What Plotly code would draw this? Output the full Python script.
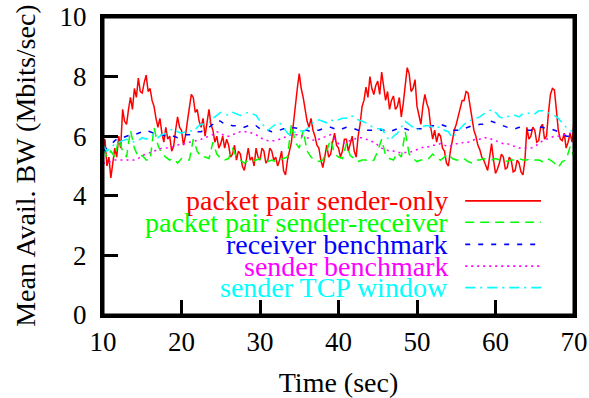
import plotly.graph_objects as go

# sampling grids (seconds)
time_fine = [10 + 0.25 * i for i in range(241)]
time = [10 + 0.5 * i for i in range(121)]

pp_sender_only = [
    5.5, 5.9, 5.0, 5.3, 4.6, 5.2, 5.6, 5.3, 6.0, 5.6, 6.9, 6.5, 6.4, 6.9, 7.3, 6.9, 7.6, 7.3, 7.95, 7.5,
    7.45, 7.8, 8.05, 7.5, 7.6, 7.2, 7.0, 6.6, 6.3, 6.6, 6.1, 5.8, 6.3, 5.9, 6.0, 5.5, 5.65, 6.2, 6.65, 6.3,
    6.2, 5.7, 6.0, 6.5, 6.9, 7.4, 7.3, 6.8, 6.9, 6.5, 6.3, 6.6, 6.0, 6.4, 6.9, 6.4, 6.2, 5.8, 6.0, 5.6,
    5.75, 6.0, 5.6, 5.9, 5.7, 5.3, 5.4, 5.7, 5.2, 5.5, 5.4, 5.0, 4.85, 5.2, 5.6, 5.2, 5.3, 5.0, 5.6, 5.3,
    5.2, 5.6, 5.5, 5.1, 5.2, 5.6, 5.5, 5.2, 5.3, 5.0, 5.2, 5.5, 4.85, 4.7, 5.2, 5.5, 5.8, 6.4, 7.1, 7.6,
    8.1, 7.6, 7.3, 6.9, 6.5, 6.3, 6.6, 6.2, 6.0, 5.7, 5.6, 5.2, 4.95, 5.3, 5.7, 5.3, 5.4, 5.8, 6.1, 5.7,
    5.6, 5.3, 5.5, 5.9, 5.9, 5.5, 5.8, 6.0, 5.5, 5.3, 6.0, 6.4, 7.0, 7.2, 7.65, 7.3, 8.0, 7.6, 7.4, 7.7,
    7.85, 7.4, 8.15, 7.7, 7.2, 7.5, 6.9, 7.2, 7.35, 6.9, 7.0, 7.3, 6.65, 7.1, 7.8, 8.3, 8.1, 7.5, 7.6, 7.9,
    7.0, 6.7, 6.4, 7.0, 7.4, 7.1, 6.9, 6.3, 5.9, 6.2, 5.8, 6.1, 6.0, 5.6, 5.5, 5.1, 5.0, 5.5, 5.9, 6.2,
    6.4, 6.7, 6.9, 7.2, 7.2, 7.5, 7.45, 7.0, 6.5, 6.2, 6.0, 5.7, 5.55, 5.3, 5.2, 5.0, 4.85, 5.3, 5.75, 5.2,
    4.75, 4.9, 5.1, 5.4, 5.3, 4.9, 4.95, 5.3, 5.2, 4.8, 4.85, 5.2, 5.1, 4.8, 4.7, 5.2, 6.3, 5.9, 6.0, 6.3,
    6.2, 5.8, 5.85, 6.3, 6.4, 5.9, 6.0, 6.8, 7.4, 7.6, 7.55, 6.9, 6.2, 5.9, 5.85, 6.1, 5.6, 5.8, 6.1, 5.8,
    6.5,
]

pp_sender_receiver = [
    5.6, 5.3, 5.5, 5.3, 5.9, 5.5, 5.3, 6.2, 5.6, 5.3,
    5.35, 5.2, 5.2, 6.3, 5.7, 5.4, 5.3, 5.2, 5.25, 5.1,
    5.25, 5.2, 5.2, 5.9, 5.5, 5.3, 5.3, 5.25, 5.8, 5.4,
    5.25, 5.2, 5.25, 5.6, 5.3, 5.2, 5.1, 5.2, 5.15, 5.2,
    5.25, 5.2, 5.15, 5.2, 5.15, 5.2, 5.25, 5.3, 6.4, 5.8,
    5.6, 6.2, 5.5, 5.3, 5.2, 5.15, 5.2, 5.5, 5.9, 5.4,
    5.3, 5.25, 5.75, 5.35, 5.25, 5.15, 5.2, 5.2, 5.15, 5.2,
    5.5, 5.9, 5.35, 5.25, 5.2, 5.45, 5.3, 6.15, 5.4, 5.25,
    5.15, 5.2, 5.2, 5.25, 5.4, 5.25, 5.2, 5.3, 5.4, 5.25,
    5.2, 5.2, 5.25, 5.15, 5.1, 5.2, 5.2, 5.25, 5.2, 5.2,
    5.25, 5.2, 5.2, 5.15, 5.2, 5.2, 5.25, 5.2, 5.2, 5.25,
    5.2, 5.2, 5.15, 5.25, 5.2, 5.1, 4.95, 5.15, 5.2, 5.65,
    5.3,
]

receiver_benchmark = [
    5.5, 5.6, 5.7, 5.85, 5.95, 5.95, 6.0, 6.05, 6.05, 6.1,
    6.15, 6.2, 6.15, 6.1, 6.05, 6.05, 6.0, 6.05, 6.0, 5.95,
    6.0, 6.05, 6.05, 6.1, 6.15, 6.15, 6.25, 6.3, 6.4, 6.55,
    6.5, 6.4, 6.4, 6.35, 6.35, 6.35, 6.3, 6.35, 6.3, 6.35,
    6.25, 6.2, 6.2, 6.15, 6.2, 6.2, 6.25, 6.25, 6.3, 6.28,
    6.25, 6.2, 6.2, 6.15, 6.2, 6.2, 6.25, 6.3, 6.3, 6.25,
    6.2, 6.25, 6.3, 6.3, 6.25, 6.2, 6.2, 6.2, 6.2, 6.2,
    6.25, 6.2, 6.2, 6.15, 6.2, 6.25, 6.3, 6.25, 6.2, 6.2,
    6.25, 6.25, 6.3, 6.3, 6.35, 6.35, 6.4, 6.35, 6.3, 6.2,
    6.2, 6.2, 6.25, 6.3, 6.35, 6.35, 6.4, 6.4, 6.45, 6.5,
    6.45, 6.4, 6.35, 6.3, 6.25, 6.25, 6.3, 6.25, 6.2, 6.2,
    6.25, 6.3, 6.3, 6.25, 6.25, 6.2, 6.15, 6.1, 6.0, 6.0,
    6.05,
]

sender_benchmark = [
    5.1, 5.1, 5.15, 5.2, 5.2, 5.2, 5.2, 5.2, 5.2, 5.25,
    5.35, 5.4, 5.45, 5.5, 5.55, 5.6, 5.6, 5.62, 5.65, 5.7,
    5.75, 5.75, 5.8, 5.82, 5.85, 5.9, 5.95, 6.0, 6.05, 6.15,
    6.1, 6.0, 6.0, 6.05, 6.1, 6.15, 6.15, 6.15, 6.1, 6.05,
    5.95, 5.9, 5.85, 5.85, 5.85, 5.9, 5.95, 6.0, 6.05, 6.05,
    6.05, 6.0, 5.95, 5.9, 5.85, 5.9, 5.95, 6.0, 6.05, 5.9,
    5.75, 5.75, 5.8, 5.85, 5.9, 5.95, 5.95, 5.9, 5.85, 5.8,
    5.7, 5.6, 5.55, 5.5, 5.5, 5.45, 5.45, 5.45, 5.45, 5.5,
    5.55, 5.6, 5.65, 5.65, 5.7, 5.7, 5.75, 5.7, 5.65, 5.7,
    5.75, 5.75, 5.8, 5.8, 5.85, 5.9, 5.9, 5.95, 5.95, 5.9,
    5.85, 5.8, 5.75, 5.75, 5.7, 5.65, 5.6, 5.6, 5.6, 5.6,
    5.65, 5.75, 5.85, 5.9, 5.95, 6.0, 6.0, 6.05, 6.05, 6.1,
    6.1,
]

sender_tcp_window = [
    5.7, 5.5, 5.6, 5.75, 5.8, 5.85, 5.9, 5.85, 5.8, 5.85,
    5.95, 5.9, 6.0, 6.05, 5.95, 6.05, 6.1, 6.2, 6.25, 6.15,
    6.1, 6.15, 6.2, 6.15, 6.3, 6.4, 6.4, 6.45, 6.6, 6.7,
    6.8, 6.75, 6.7, 6.8, 6.75, 6.7, 6.75, 6.8, 6.75, 6.7,
    6.5, 6.35, 6.2, 6.3, 6.4, 6.45, 6.3, 6.1, 6.0, 6.15,
    6.2, 6.15, 6.25, 6.4, 6.5, 6.55, 6.5, 6.45, 6.55, 6.5,
    6.55, 6.6, 6.6, 6.7, 6.65, 6.55, 6.5, 6.45, 6.35, 6.3,
    6.25, 6.25, 6.05, 5.85, 6.0, 6.1, 6.3, 6.5, 6.4, 6.3,
    6.2, 6.3, 6.35, 6.35, 6.3, 6.3, 6.3, 6.2, 6.15, 5.95,
    6.1, 6.25, 6.4, 6.5, 6.55, 6.6, 6.65, 6.75, 6.8, 6.9,
    6.8, 6.65, 6.6, 6.65, 6.7, 6.7, 6.65, 6.75, 6.75, 6.8,
    6.75, 6.85, 6.85, 6.8, 6.75, 6.7, 6.6, 6.45, 6.3, 6.2,
    6.15,
]

series_names = [
    "packet pair sender-only",
    "packet pair sender-receiver",
    "receiver benchmark",
    "sender benchmark",
    "sender TCP window",
]
series_x = [time_fine, time, time, time, time]
series_values = [pp_sender_only, pp_sender_receiver, receiver_benchmark,
                 sender_benchmark, sender_tcp_window]
colors = ["#ff0000", "#00ff00", "#0000ff", "#ff00ff", "#00ffff"]
dashes = ["solid", "9px,6px", "5px,8px", "2px,4px", "10px,5px,2px,5px"]

x_ticks = [10, 20, 30, 40, 50, 60, 70]
y_ticks = [0, 2, 4, 6, 8, 10]

FONT = "Liberation Serif, Times New Roman, serif"

fig = go.Figure()
for name, xs, vals, c, d in zip(series_names, series_x, series_values, colors, dashes):
    fig.add_trace(go.Scatter(x=xs, y=vals, mode="lines", name=name,
                             line=dict(color=c, width=1.5, dash=d),
                             showlegend=False))

# legend drawn gnuplot-style: right-aligned text with sample line to the right
leg_y = [0.383, 0.311, 0.237, 0.164, 0.092]
for name, c, d, yy in zip(series_names, colors, dashes, leg_y):
    fig.add_annotation(x=0.737, y=yy, xref="paper", yref="paper",
                       text=name, showarrow=False, xanchor="right",
                       yanchor="middle", font=dict(family=FONT, size=28, color=c))
    fig.add_shape(type="line", xref="paper", yref="paper",
                  x0=0.769, x1=0.930, y0=yy, y1=yy,
                  line=dict(color=c, width=1.6, dash=d))

# y-axis title, placed as a rotated text
fig.add_annotation(x=-0.166, y=0.5, xref="paper", yref="paper",
                   text="Mean Avail. BW (Mbits/sec)", showarrow=False,
                   textangle=-90, xanchor="center", yanchor="middle",
                   font=dict(family=FONT, size=28, color="black"))

# frame around the plot area
fig.add_shape(type="rect", xref="paper", yref="paper", x0=0, x1=1, y0=0, y1=1,
              line=dict(color="black", width=3), layer="above")

axis_common = dict(
    showline=True, linecolor="black", linewidth=3, mirror=True,
    ticks="inside", ticklen=15, tickwidth=2.5, tickcolor="black",
    showgrid=False, zeroline=False, automargin=False,
    ticklabeloverflow="allow",
    tickfont=dict(family=FONT, size=27, color="black"),
)

fig.update_layout(
    width=589, height=398,
    margin=dict(l=103, r=15, t=17, b=83),
    paper_bgcolor="white", plot_bgcolor="white",
    xaxis=dict(range=[10, 70], tickvals=x_ticks, ticklabelstandoff=1,
               title=dict(text="Time (sec)", standoff=21,
                          font=dict(family=FONT, size=28, color="black")),
               **axis_common),
    yaxis=dict(range=[0, 10], tickvals=y_ticks, ticklabelstandoff=8,
               **axis_common),
)

fig.write_html(
    "out.html",
    config={"displayModeBar": False},
    post_script="document.body.style.margin='0px';document.body.style.overflow='hidden';",
)
